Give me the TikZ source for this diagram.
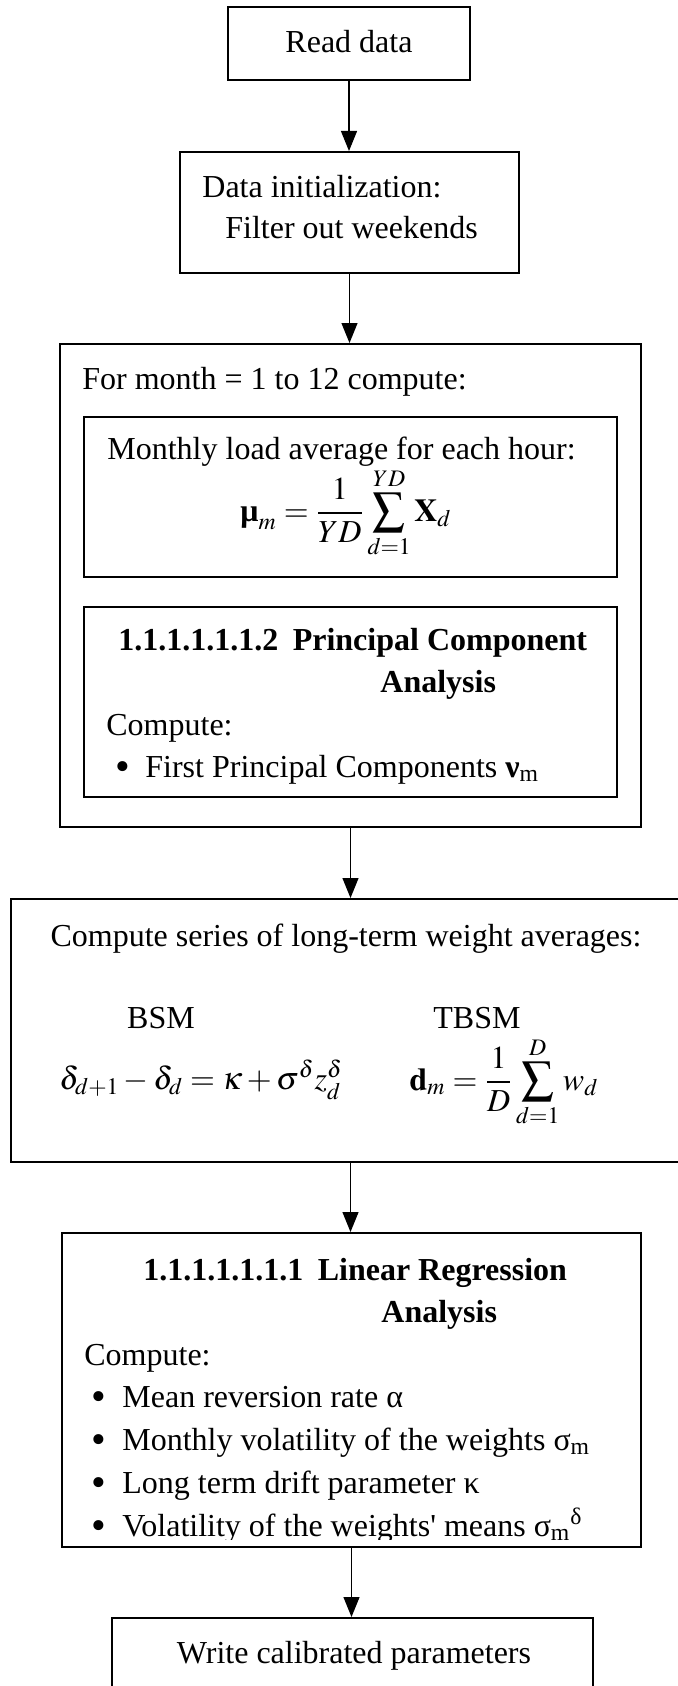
\documentclass[tikz,border=0pt]{standalone}
\usepackage{mathptmx}
\usepackage{fontspec}
\setmainfont{Liberation Serif}
\usetikzlibrary{fit,arrows.meta}
\newcommand{\straightquote}{\XeTeXglyph\XeTeXcharglyph"0027\relax}
\begin{document}
\begin{tikzpicture}[x=0.5pt,y=-0.5pt,
  box/.style={draw, line width=1pt, inner sep=0pt, rectangle},
  txt/.style={inner sep=0pt, anchor=base west, font=\fontsize{16}{19}\selectfont},
  ctxt/.style={inner sep=0pt, anchor=base, font=\fontsize{16}{19}\selectfont},
  htxt/.style={inner sep=0pt, anchor=base west, font=\fontsize{16}{19}\selectfont\bfseries},
  bul/.style={inner sep=0pt, anchor=base, font=\fontsize{21}{21}\selectfont},
  arr/.style={line width=0.6pt, -{Triangle[width=8pt,length=10pt]}}]
\clip (0,0) rectangle (678,1686);
% boxes
\node[box, fit={(228,7)(470,80)}] (read) {};
\node[box, fit={(180,152)(519,273)}] (init) {};
\node[box, fit={(60,344)(641,827)}] (loop) {};
\node[box, fit={(84,417)(617,577)}] (avg) {};
\node[box, fit={(84,607)(617,797)}] (pca) {};
\node[box, fit={(11,899)(690,1162)}] (series) {};
\node[box, fit={(62,1233)(641,1547)}] (regress) {};
\node[box, fit={(112,1618)(593,1720)}] (write) {};
% texts
\node[ctxt] (t1) at (349,53) {Read data};
\node[txt] (t2) at (202,197) {Data initialization:};
\node[txt] (t3) at (225,238) {Filter out weekends};
\node[txt] (t4) at (82,389) {For month = 1 to 12 compute:};
\node[txt] (t5) at (107,459) {Monthly load average for each hour:};
\node[ctxt] (f1) at (346,521) {$\displaystyle \mbox{\bfseries μ}_m=\frac{1}{YD}\sum_{d=1}^{YD}\mathbf{X}_d$};
\node[htxt] (t6) at (118,650) {1.1.1.1.1.1.2\hspace{0.45em}Principal Component};
\node[htxt] (t7) at (380,692) {Analysis};
\node[txt] (t8) at (106,735) {Compute:};
\node[bul] (b1) at (123,780) {•};
\node[txt] (t9) at (145,777) {First Principal Components {\bfseries ν}\textsubscript{m}};
\node[ctxt] (t10) at (346,946) {Compute series of long-term weight averages:};
\node[ctxt] (t11) at (161,1028) {BSM};
\node[ctxt] (t12) at (477,1028) {TBSM};
\node[ctxt] (f2) at (201,1089) {$\delta_{d+1}-\delta_d=\kappa+\sigma^{\delta}z_d^{\delta}$};
\node[ctxt] (f3) at (504,1090) {$\displaystyle \mathbf{d}_m=\frac{1}{D}\sum_{d=1}^{D}w_d$};
\node[htxt] (t13) at (143,1280) {1.1.1.1.1.1.1\hspace{0.45em}Linear Regression};
\node[htxt] (t14) at (381,1322) {Analysis};
\node[txt] (t15) at (84,1365) {Compute:};
\begin{scope}
\clip (62,1233) rectangle (641,1539);
\node[bul] (b2) at (99,1410) {•};
\node[txt] (t16) at (122,1407) {Mean reversion rate α};
\node[bul] (b3) at (99,1453) {•};
\node[txt] (t17) at (122,1450) {Monthly volatility of the weights σ\textsubscript{m}};
\node[bul] (b4) at (99,1496) {•};
\node[txt] (t18) at (122,1493) {Long term drift parameter κ};
\node[bul] (b5) at (99,1539) {•};
\node[txt] (t19) at (122,1536) {Volatility of the weights\straightquote{} means σ\textsubscript{m}\textsuperscript{δ}};
\end{scope}
\node[ctxt] (t20) at (354,1663) {Write calibrated parameters};
% connectors
\draw[arr] (read.south) -- (read.south |- init.north);
\draw[arr] (init.south) -- (init.south |- loop.north);
\draw[arr] (loop.south) -- (loop.south |- series.north);
\draw[arr] (series.south) -- (series.south |- regress.north);
\draw[arr] (regress.south) -- (regress.south |- write.north);
\end{tikzpicture}
\end{document}
